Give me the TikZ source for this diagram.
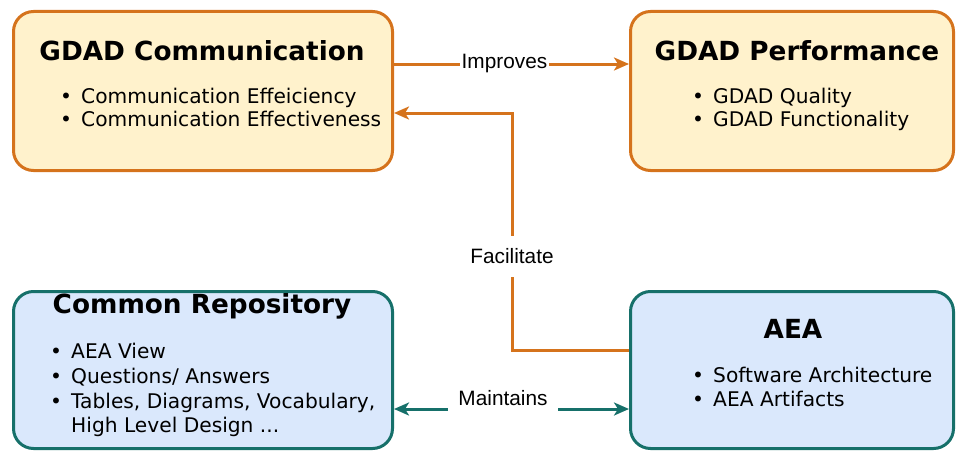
\documentclass[tikz,border=0pt]{standalone}
\usepackage{fontspec}
\setmainfont{DejaVu Sans}
\newfontfamily\lblfont{Liberation Sans}
\usetikzlibrary{arrows.meta}
\definecolor{oedge}{HTML}{D5731C}
\definecolor{ofill}{HTML}{FFF2CC}
\definecolor{bfill}{HTML}{DAE8FC}
\definecolor{tedge}{HTML}{16706A}
\begin{document}
\begin{tikzpicture}[x=1pt,y=-1pt,
  obox/.style={draw=oedge, fill=ofill, line width=3pt, rounded corners=20pt, inner sep=0},
  bbox/.style={draw=tedge, fill=bfill, line width=3pt, rounded corners=20pt, inner sep=0},
  ttl/.style={font=\bfseries\fontsize{26.3}{31}\selectfont, anchor=base, inner sep=0},
  bl/.style={anchor=base west, inner sep=0, font=\fontsize{20.2}{24}\selectfont},
  lbl/.style={font=\lblfont\fontsize{20.8}{24}\selectfont, fill=white, inner xsep=2pt, inner ysep=1pt},
  tip/.style={-{Stealth[length=15pt,width=13pt,inset=4pt]}},
  oarrow/.style={draw=oedge, line width=3pt, tip},
  tarrow/.style={draw=tedge, line width=3pt, {Stealth[length=15pt,width=13pt,inset=4pt]}-{Stealth[length=15pt,width=13pt,inset=4pt]}}
]
\useasboundingbox (0,0) rectangle (957,452);

% boxes
\node[obox, minimum width=379pt, minimum height=159pt] (comm) at (203,91) {};
\node[obox, minimum width=323pt, minimum height=159pt] (perf) at (792,91) {};
\node[bbox, minimum width=379pt, minimum height=157pt] (repo) at (203,370) {};
\node[bbox, minimum width=323pt, minimum height=157pt] (aea) at (792,370) {};

% titles
\node[ttl] (commT) at (202,60) {GDAD Communication};
\node[ttl] (perfT) at (797,60) {GDAD Performance};
\node[ttl] (repoT) at (202,313) {Common Repository};
\node[ttl] (aeaT) at (793,338) {AEA};

% bullets
\node[bl] (c1) at (60,103) {\makebox[21pt][l]{•}Communication Effeiciency};
\node[bl] (c2) at (60,126) {\makebox[21pt][l]{•}Communication Effectiveness};
\node[bl] (p1) at (692,103) {\makebox[21pt][l]{•}GDAD Quality};
\node[bl] (p2) at (692,126) {\makebox[21pt][l]{•}GDAD Functionality};
\node[bl] (r1) at (50,358) {\makebox[21pt][l]{•}AEA View};
\node[bl] (r2) at (50,383) {\makebox[21pt][l]{•}Questions/ Answers};
\node[bl] (r3) at (50,408) {\makebox[21pt][l]{•}Tables, Diagrams, Vocabulary,};
\node[bl] (r4) at (50,432) {\makebox[21pt][l]{}High Level Design ...};
\node[bl] (a1) at (692,382) {\makebox[21pt][l]{•}Software Architecture};
\node[bl] (a2) at (692,406) {\makebox[21pt][l]{•}AEA Artifacts};

% connectors
\draw[oarrow] ([yshift=27pt]comm.east) -- node[lbl, pos=0.47] (impL) {Improves} ([yshift=27pt]perf.west);

\coordinate (fx) at (512,0);
\coordinate (fin) at ([yshift=-22pt]comm.east);
\coordinate (fout) at ([yshift=20pt]aea.west);
\draw[oarrow] (fout) -| (fx |- fin) -- (fin);
\node[lbl, inner ysep=13pt] (facL) at (512,256.5) {Facilitate};

\draw[tarrow] ([yshift=-39pt]repo.east) -- ([yshift=-39pt]aea.west);
\node[lbl, inner xsep=10pt, inner ysep=9pt] (mntL) at (503,398) {Maintains};
\end{tikzpicture}
\end{document}
